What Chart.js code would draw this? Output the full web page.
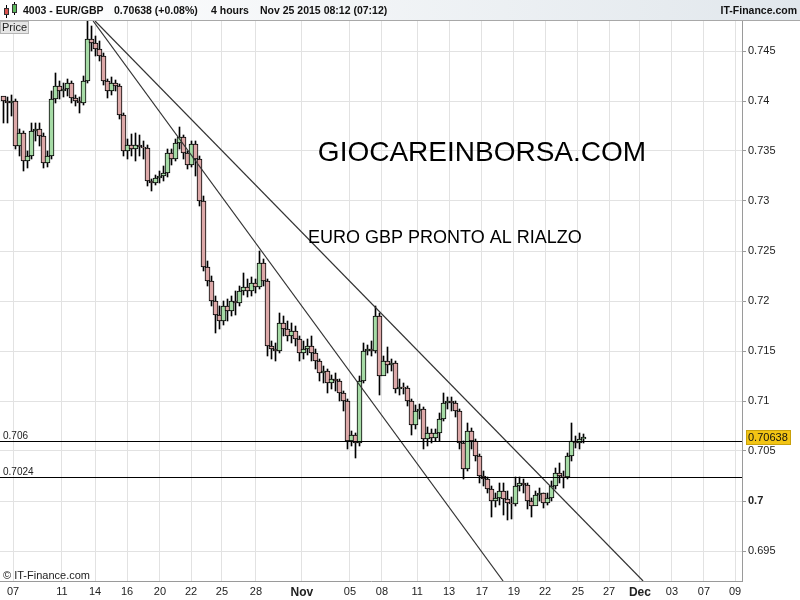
<!DOCTYPE html>
<html><head><meta charset="utf-8">
<script src="https://cdn.jsdelivr.net/npm/chart.js@4.4.0/dist/chart.umd.min.js"></script>
<style>html,body{margin:0;padding:0;background:#fff;}#wrap{width:800px;height:600px;position:relative;}</style>
</head><body><div id="wrap"><canvas id="c" width="800" height="600"></canvas></div>
<script>
// ---- data (4-hour EUR/GBP candles) ----
const firstOpen = 0.7405;
const closes = [
0.7400,0.7398,0.7400,0.7355,0.7368,0.7340,0.7345,0.7370,0.7372,0.7365,
0.7338,0.7345,0.7402,0.7415,0.7410,0.7412,0.7418,0.7403,0.7400,0.7398,
0.7420,0.7462,0.7458,0.7452,0.7445,0.7420,0.7410,0.7418,0.7415,0.7386,
0.7350,0.7356,0.7352,0.7356,0.7354,0.7353,0.7320,0.7318,0.7323,0.7325,
0.7328,0.7348,0.7342,0.7358,0.7364,0.7348,0.7336,0.7357,0.7342,0.7300,
0.7234,0.7220,0.7200,0.7186,0.7180,0.7195,0.7190,0.7200,0.7198,0.7210,
0.7214,0.7210,0.7218,0.7214,0.7238,0.7220,0.7155,0.7152,0.7150,0.7178,
0.7172,0.7165,0.7170,0.7162,0.7148,0.7152,0.7155,0.7148,0.7140,0.7128,
0.7130,0.7118,0.7122,0.7120,0.7108,0.7100,0.7060,0.7066,0.7058,0.7120,
0.7150,0.7152,0.7150,0.7185,0.7125,0.7140,0.7136,0.7138,0.7112,0.7114,
0.7113,0.7100,0.7076,0.7090,0.7092,0.7062,0.7068,0.7063,0.7068,0.7082,
0.7098,0.7100,0.7098,0.7090,0.7058,0.7032,0.7070,0.7060,0.7045,0.7025,
0.7022,0.7012,0.7000,0.7003,0.7010,0.7002,0.6998,0.6997,0.7015,0.7018,
0.7016,0.7000,0.6995,0.7006,0.7008,0.6998,0.7003,0.7015,0.7028,0.7025,
0.7024,0.7045,0.7060,0.7058,0.7062,0.70638];
const highs = [
0.7403,0.7404,0.7406,0.7402,0.7372,0.7370,0.7350,0.7378,0.7378,0.7378,
0.7368,0.7350,0.7410,0.7428,0.7420,0.7418,0.7422,0.7420,0.7406,0.7404,
0.7425,0.7480,0.7475,0.7465,0.7460,0.7448,0.7422,0.7424,0.7421,0.7417,
0.7388,0.7362,0.7367,0.7368,0.7366,0.7360,0.7356,0.7322,0.7326,0.7330,
0.7335,0.7352,0.7352,0.7362,0.7374,0.7366,0.7350,0.7360,0.7360,0.7345,
0.7305,0.7240,0.7225,0.7205,0.7195,0.7200,0.7202,0.7205,0.7210,0.7215,
0.7228,0.7222,0.7224,0.7222,0.7250,0.7242,0.7222,0.7160,0.7158,0.7188,
0.7185,0.7180,0.7178,0.7175,0.7165,0.7160,0.7162,0.7165,0.7152,0.7142,
0.7135,0.7132,0.7126,0.7128,0.7122,0.7110,0.7102,0.7070,0.7068,0.7125,
0.7158,0.7156,0.7160,0.7195,0.7188,0.7145,0.7154,0.7142,0.7140,0.7122,
0.7118,0.7115,0.7102,0.7096,0.7097,0.7094,0.7074,0.7072,0.7072,0.7088,
0.7108,0.7104,0.7104,0.7100,0.7092,0.7060,0.7078,0.7073,0.7062,0.7047,
0.7030,0.7024,0.7015,0.7008,0.7018,0.7018,0.7010,0.7004,0.7024,0.7024,
0.7022,0.7018,0.7003,0.7010,0.7013,0.7008,0.7008,0.7020,0.7033,0.7038,
0.7030,0.7048,0.7078,0.7065,0.7068,0.7067];
const lows = [
0.7378,0.7378,0.7385,0.7352,0.7345,0.7330,0.7333,0.7342,0.7360,0.7355,
0.7333,0.7334,0.7342,0.7398,0.7402,0.7404,0.7405,0.7398,0.7395,0.7388,
0.7396,0.7418,0.7450,0.7445,0.7440,0.7416,0.7403,0.7406,0.7410,0.7382,
0.7345,0.7342,0.7345,0.7340,0.7345,0.7342,0.7315,0.7310,0.7316,0.7318,
0.7320,0.7324,0.7336,0.7340,0.7352,0.7342,0.7332,0.7334,0.7325,0.7295,
0.7230,0.7215,0.7195,0.7168,0.7172,0.7176,0.7180,0.7185,0.7186,0.7195,
0.7206,0.7204,0.7205,0.7208,0.7212,0.7215,0.7145,0.7142,0.7140,0.7148,
0.7165,0.7160,0.7158,0.7155,0.7140,0.7142,0.7146,0.7140,0.7132,0.7120,
0.7118,0.7108,0.7112,0.7110,0.7100,0.7090,0.7052,0.7055,0.7043,0.7055,
0.7118,0.7146,0.7145,0.7148,0.7106,0.7128,0.7128,0.7130,0.7108,0.7106,
0.7107,0.7095,0.7066,0.7072,0.7082,0.7052,0.7055,0.7058,0.7060,0.7060,
0.7080,0.7092,0.7090,0.7084,0.7052,0.7022,0.7030,0.7052,0.7040,0.7018,
0.7015,0.7008,0.6984,0.6994,0.6996,0.6986,0.6981,0.6982,0.6995,0.7010,
0.7008,0.6992,0.6984,0.6996,0.7000,0.6993,0.6996,0.7000,0.7012,0.7018,
0.7013,0.7022,0.7040,0.7053,0.7052,0.7058];
// date tick labels and the candle position they sit at
const xTickPos    = [2.4,14.6,22.9,30.9,39.1,46.9,54.6,63.1,74.6,86.6,94.6,103.4,111.4,119.6,127.6,135.4,143.6,151.4,159.1,167.1,175.1,182.9];
const xTickLabels = ["07","11","14","16","20","22","25","28","Nov","05","08","11","13","17","19","22","25","27","Dec","03","07","09"];
const yTicks = [0.695,0.7,0.705,0.71,0.715,0.72,0.725,0.73,0.735,0.74,0.745];
const levels = [0.706, 0.7024];
const levelLabels = ["0.706","0.7024"];
const trendA = [{x:22.4,y:0.748},{x:124.9,y:0.692}];
const trendB = [{x:22.9,y:0.748},{x:159.9,y:0.692}];
const lastPrice = 0.70638;

const UP = '#a6dba6', DOWN = '#dca8a8';
const FONT = "'Liberation Sans', Arial, sans-serif";

const idx = closes.map((_, i) => i);
const opens = closes.map((c, i) => i === 0 ? firstOpen : closes[i - 1]);
const bodies = idx.map(i => ({x: i, y: [opens[i], closes[i]]}));
const wicks = idx.map(i => ({x: i, y: [lows[i], highs[i]]}));
const bodyColors = idx.map(i => closes[i] >= opens[i] ? UP : DOWN);

const deco = {
  id: 'deco',
  beforeDraw(chart) {
    const c = chart.ctx; c.save(); c.fillStyle = '#fff'; c.fillRect(0, 0, 800, 600); c.restore();
  },
  afterDatasetsDraw(chart) {
    const c = chart.ctx, a = chart.chartArea, ys = chart.scales.y;
    c.save();
    c.beginPath(); c.rect(a.left, a.top, a.right - a.left, a.bottom - a.top); c.clip();
    levels.forEach((lv, k) => {
      const py = Math.round(ys.getPixelForValue(lv)) + 0.5;
      c.strokeStyle = '#000'; c.lineWidth = 1;
      c.beginPath(); c.moveTo(a.left, py); c.lineTo(a.right, py); c.stroke();
      c.fillStyle = '#222'; c.font = '10px ' + FONT; c.textAlign = 'left'; c.textBaseline = 'alphabetic';
      c.fillText(levelLabels[k], 3, py - 3);
    });
    c.fillStyle = '#000';
    c.font = '28px ' + FONT; c.textAlign = 'center'; c.textBaseline = 'alphabetic';
    c.fillText('GIOCAREINBORSA.COM', 482, 161);
    c.font = '18px ' + FONT; c.textAlign = 'left';
    c.fillText('EURO GBP PRONTO AL RIALZO', 308, 243);
    c.font = '11px ' + FONT; c.fillStyle = '#222';
    c.fillText('\u00A9 IT-Finance.com', 3, 579);
    c.restore();
  },
  afterDraw(chart) {
    const c = chart.ctx, a = chart.chartArea, ys = chart.scales.y;
    c.save();
    // header bar
    const g = c.createLinearGradient(0, 0, 800, 0);
    g.addColorStop(0, '#ffffff'); g.addColorStop(1, '#e1e7ec');
    c.fillStyle = g; c.fillRect(0, 0, 800, 20);
    c.fillStyle = '#a8a8a8'; c.fillRect(0, 20, 800, 1);
    // candle icon
    c.fillStyle = '#000'; c.fillRect(6, 5, 1, 13); c.fillRect(14, 2, 1, 13);
    c.fillStyle = '#d9534f'; c.fillRect(4, 8, 5, 7);
    c.fillStyle = '#5cb85c'; c.fillRect(12, 4, 5, 9);
    c.strokeStyle = '#333'; c.lineWidth = 1;
    c.strokeRect(4.5, 8.5, 4, 6); c.strokeRect(12.5, 4.5, 4, 8);
    c.fillStyle = '#111'; c.font = 'bold 10.5px ' + FONT; c.textBaseline = 'middle'; c.textAlign = 'left';
    c.fillText('4003 - EUR/GBP', 23, 11);
    c.fillText('0.70638 (+0.08%)', 114, 11);
    c.fillText('4 hours', 211, 11);
    c.fillText('Nov 25 2015 08:12 (07:12)', 260, 11);
    c.textAlign = 'right';
    c.fillText('IT-Finance.com', 797, 11);
    // Price tag
    c.fillStyle = '#e6e6e6'; c.fillRect(0, 21, 29, 13);
    c.strokeStyle = '#b5b5b5'; c.strokeRect(0.5, 21.5, 28, 12);
    c.fillStyle = '#222'; c.font = '11px ' + FONT; c.textAlign = 'left'; c.textBaseline = 'middle';
    c.fillText('Price', 2, 28);
    // last price box
    const py = Math.round(ys.getPixelForValue(lastPrice));
    c.fillStyle = '#f2c414'; c.fillRect(746, py - 7, 45, 15);
    c.strokeStyle = '#c9a10a'; c.strokeRect(746.5, py - 6.5, 44, 14);
    c.fillStyle = '#111'; c.font = '11px ' + FONT; c.fillText('0.70638', 748, py + 1);
    c.restore();
  }
};

new Chart(document.getElementById('c'), {
  type: 'bar',
  data: {
    datasets: [
      {type: 'line', data: trendA, borderColor: '#333', borderWidth: 1.2, pointRadius: 0, order: -2},
      {type: 'line', data: trendB, borderColor: '#333', borderWidth: 1.2, pointRadius: 0, order: -1},
      {data: bodies, backgroundColor: bodyColors, borderColor: '#000', borderWidth: 1, borderSkipped: false,
       barThickness: 5, grouped: false, minBarLength: 1, order: 0},
      {data: wicks, backgroundColor: '#000', borderWidth: 0, barThickness: 1, grouped: false, order: 1}
    ]
  },
  options: {
    responsive: false, animation: false,
    layout: {padding: {top: 21, left: 0, right: 0, bottom: 0}},
    plugins: {legend: {display: false}, tooltip: {enabled: false}},
    scales: {
      x: {
        type: 'linear', min: -0.875, max: 184.625, offset: false,
        afterBuildTicks: s => { s.ticks = xTickPos.map(v => ({value: v})); },
        afterFit: s => { s.height = 19; },
        grid: {color: '#e2e2e2', drawTicks: false, offset: false},
        border: {color: '#9a9a9a'},
        ticks: {
          autoSkip: false, maxRotation: 0, padding: 4, color: '#222',
          callback: (v, i) => xTickLabels[i],
          font: ctx => {
            const l = xTickLabels[ctx.index];
            return (l === 'Nov' || l === 'Dec') ? {family: FONT, size: 12, weight: 'bold'} : {family: FONT, size: 11};
          }
        }
      },
      y: {
        type: 'linear', position: 'right', min: 0.692, max: 0.748,
        afterBuildTicks: s => { s.ticks = yTicks.map(v => ({value: v})); },
        afterFit: s => { s.width = 58; },
        grid: {color: '#e2e2e2', tickColor: '#9a9a9a', tickLength: 4},
        border: {color: '#9a9a9a'},
        ticks: {
          padding: 2, color: '#222',
          callback: v => String(parseFloat(v.toFixed(4))),
          font: ctx => ({family: FONT, size: 11, weight: ctx.tick && ctx.tick.value === 0.7 ? 'bold' : 'normal'})
        }
      }
    }
  },
  plugins: [deco]
});
</script></body></html>
